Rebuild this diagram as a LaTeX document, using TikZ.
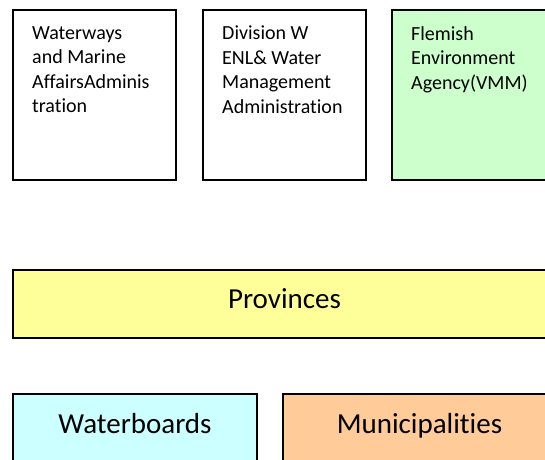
\documentclass[tikz,border=0pt]{standalone}
\usepackage{fontspec}
\setmainfont{Carlito}[Ligatures=NoCommon]
\usetikzlibrary{positioning}
\definecolor{vmmgreen}{HTML}{CCFFCC}
\definecolor{provyellow}{HTML}{FFFF99}
\definecolor{boardcyan}{HTML}{CCFFFF}
\definecolor{muniorange}{HTML}{FFCC99}
\begin{document}
\begin{tikzpicture}[
    x=1pt, y=-1pt,
    orgbox/.style={
        rectangle,
        draw=black,
        line width=1.6pt,
        inner sep=0pt,
        outer sep=0pt
    },
    topbox/.style={orgbox, minimum width=163pt, minimum height=170pt},
    smalltext/.style={font=\fontsize{20}{24.5}\selectfont, align=left, inner sep=0pt, anchor=north west},
    bigtext/.style={font=\fontsize{29}{35}\selectfont, inner sep=0pt, anchor=base}
]
    \useasboundingbox (0,0) rectangle (545,459);
    \clip (0,0) rectangle (545,459);

    % Administrations
    \node[topbox, fill=white, anchor=north west] (waterways) at (13,10) {};
    \node[topbox, fill=white, right=27pt of waterways] (division) {};
    \node[topbox, fill=vmmgreen, right=26pt of division] (vmm) {};

    \node[smalltext] (waterwaystext) at ([shift={(19,16)}]waterways.north west) {Waterways\\and Marine\\AffairsAdminis\\tration};
    \node[smalltext] (divisiontext) at ([shift={(19,16)}]division.north west) {Division W\\ENL\& Water\\Management\\Administration};
    \node[smalltext] (vmmtext) at ([shift={(19,16)}]vmm.north west) {Flemish\\Environment\\Agency(VMM)};

    % Provinces
    \node[orgbox, fill=provyellow, minimum width=543pt, minimum height=68pt, anchor=north west] (provinces) at (13,270) {};
    \node[bigtext] (provincestext) at ([yshift=-38pt]provinces.north) {Provinces};

    % Local level
    \node[orgbox, fill=boardcyan, minimum width=244pt, minimum height=80pt, anchor=north west] (waterboards) at (13,394) {};
    \node[orgbox, fill=muniorange, minimum width=273pt, minimum height=80pt, right=26pt of waterboards] (municipalities) {};
    \node[bigtext] (waterboardstext) at ([yshift=-39pt]waterboards.north) {Waterboards};
    \node[bigtext] (municipalitiestext) at ([yshift=-39pt]municipalities.north) {Municipalities};
\end{tikzpicture}
\end{document}
